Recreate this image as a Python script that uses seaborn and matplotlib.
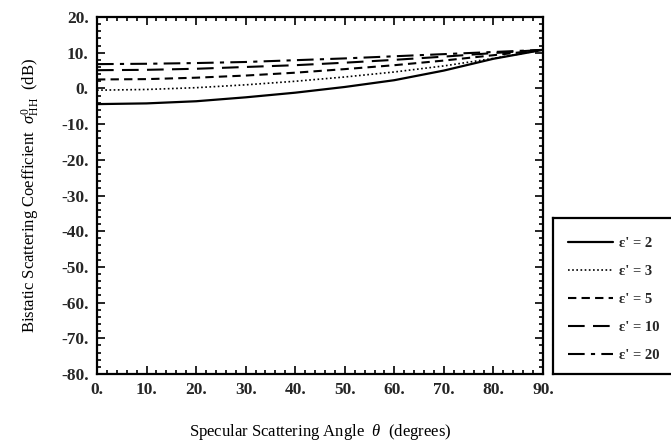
import numpy as np
import pandas as pd
import matplotlib
matplotlib.use("Agg")
import matplotlib.pyplot as plt
from matplotlib.ticker import MultipleLocator, FuncFormatter
from matplotlib.lines import Line2D
import seaborn as sns

# --- data ---
angles = [0, 10, 20, 30, 40, 50, 60, 70, 80, 90]
eps_labels = ["ε' = 2", "ε' = 3", "ε' = 5", "ε' = 10", "ε' = 20"]
sig_eps2 = [-4.4, -4.2, -3.6, -2.5, -1.2, 0.4, 2.3, 5.0, 8.3, 10.8]
sig_eps3 = [-0.5, -0.3, 0.2, 1.0, 2.0, 3.2, 4.6, 6.3, 8.4, 10.8]
sig_eps5 = [2.5, 2.6, 3.0, 3.6, 4.4, 5.4, 6.5, 7.8, 9.3, 10.8]
sig_eps10 = [5.1, 5.2, 5.5, 6.0, 6.5, 7.2, 8.0, 8.9, 9.9, 10.8]
sig_eps20 = [6.8, 6.9, 7.1, 7.4, 7.9, 8.4, 9.0, 9.6, 10.2, 10.8]

series = [sig_eps2, sig_eps3, sig_eps5, sig_eps10, sig_eps20]
styles = ["-", (0, (1, 1.5)), (0, (4, 2.5)), (0, (8, 4)), (0, (8, 3, 2, 3))]
widths = [1.6, 1.2, 1.5, 1.5, 1.5]

sns.set_theme(style="ticks")
plt.rcParams['font.family'] = ['Liberation Serif', 'DejaVu Serif']
plt.rcParams['mathtext.fontset'] = 'custom'
plt.rcParams['mathtext.rm'] = 'Liberation Serif'
plt.rcParams['mathtext.it'] = 'Liberation Serif:italic'
plt.rcParams['mathtext.bf'] = 'Liberation Serif:bold'

fig = plt.figure(figsize=(6.71, 4.46), dpi=100)
ax = fig.add_axes([97 / 671, 1 - 374 / 446, (543 - 97) / 671, (374 - 17) / 446])

for vals, lab, ls, lw in zip(series, eps_labels, styles, widths):
    df = pd.DataFrame({"angle": angles, "sigma": vals})
    sns.lineplot(data=df, x="angle", y="sigma", ax=ax, color="black",
                 linestyle=ls, linewidth=lw, label=lab, legend=False)

ax.set_xlim(0, 90)
ax.set_ylim(-80, 20)
ax.xaxis.set_major_locator(MultipleLocator(10))
ax.xaxis.set_minor_locator(MultipleLocator(2))
ax.yaxis.set_major_locator(MultipleLocator(10))
ax.yaxis.set_minor_locator(MultipleLocator(2))
fmt = FuncFormatter(lambda v, p: f"{v:.0f}.")
ax.xaxis.set_major_formatter(fmt)
ax.yaxis.set_major_formatter(fmt)
ax.tick_params(which="both", direction="in", top=True, right=True,
               color="black", width=1.2)
ax.tick_params(which="major", length=6, labelsize=12.5, pad=6)
ax.tick_params(which="minor", length=3)
for lbl in ax.get_xticklabels() + ax.get_yticklabels():
    lbl.set_fontweight("bold")
for sp in ax.spines.values():
    sp.set_color("black")
    sp.set_linewidth(1.6)

ax.set_xlabel(r"Specular Scattering Angle  $\theta$  (degrees)", fontsize=12,
              labelpad=17, color="black")
ax.set_ylabel(r"Bistatic Scattering Coefficient  $\sigma^{0}_{\mathrm{HH}}$  (dB)",
              fontsize=12, labelpad=14, color="black")

# legend box, running off the right edge like the reference
lax = fig.add_axes([553 / 671, 1 - 374 / 446, 0.3, (374 - 218) / 446])
lax.set_xticks([])
lax.set_yticks([])
lax.set_facecolor("white")
for sp in lax.spines.values():
    sp.set_color("black")
    sp.set_linewidth(1.6)
handles = [Line2D([0], [0], color="black", linestyle=ls, linewidth=lw)
           for ls, lw in zip(styles, widths)]
lax.legend(handles, eps_labels, loc="upper left", bbox_to_anchor=(0.0, 0.97),
           frameon=False, handlelength=3.1, labelspacing=1.0,
           handletextpad=0.45, borderpad=0.5,
           prop={"family": "Liberation Serif", "weight": "bold", "size": 10.5})

fig.savefig("out.png", dpi=100)
